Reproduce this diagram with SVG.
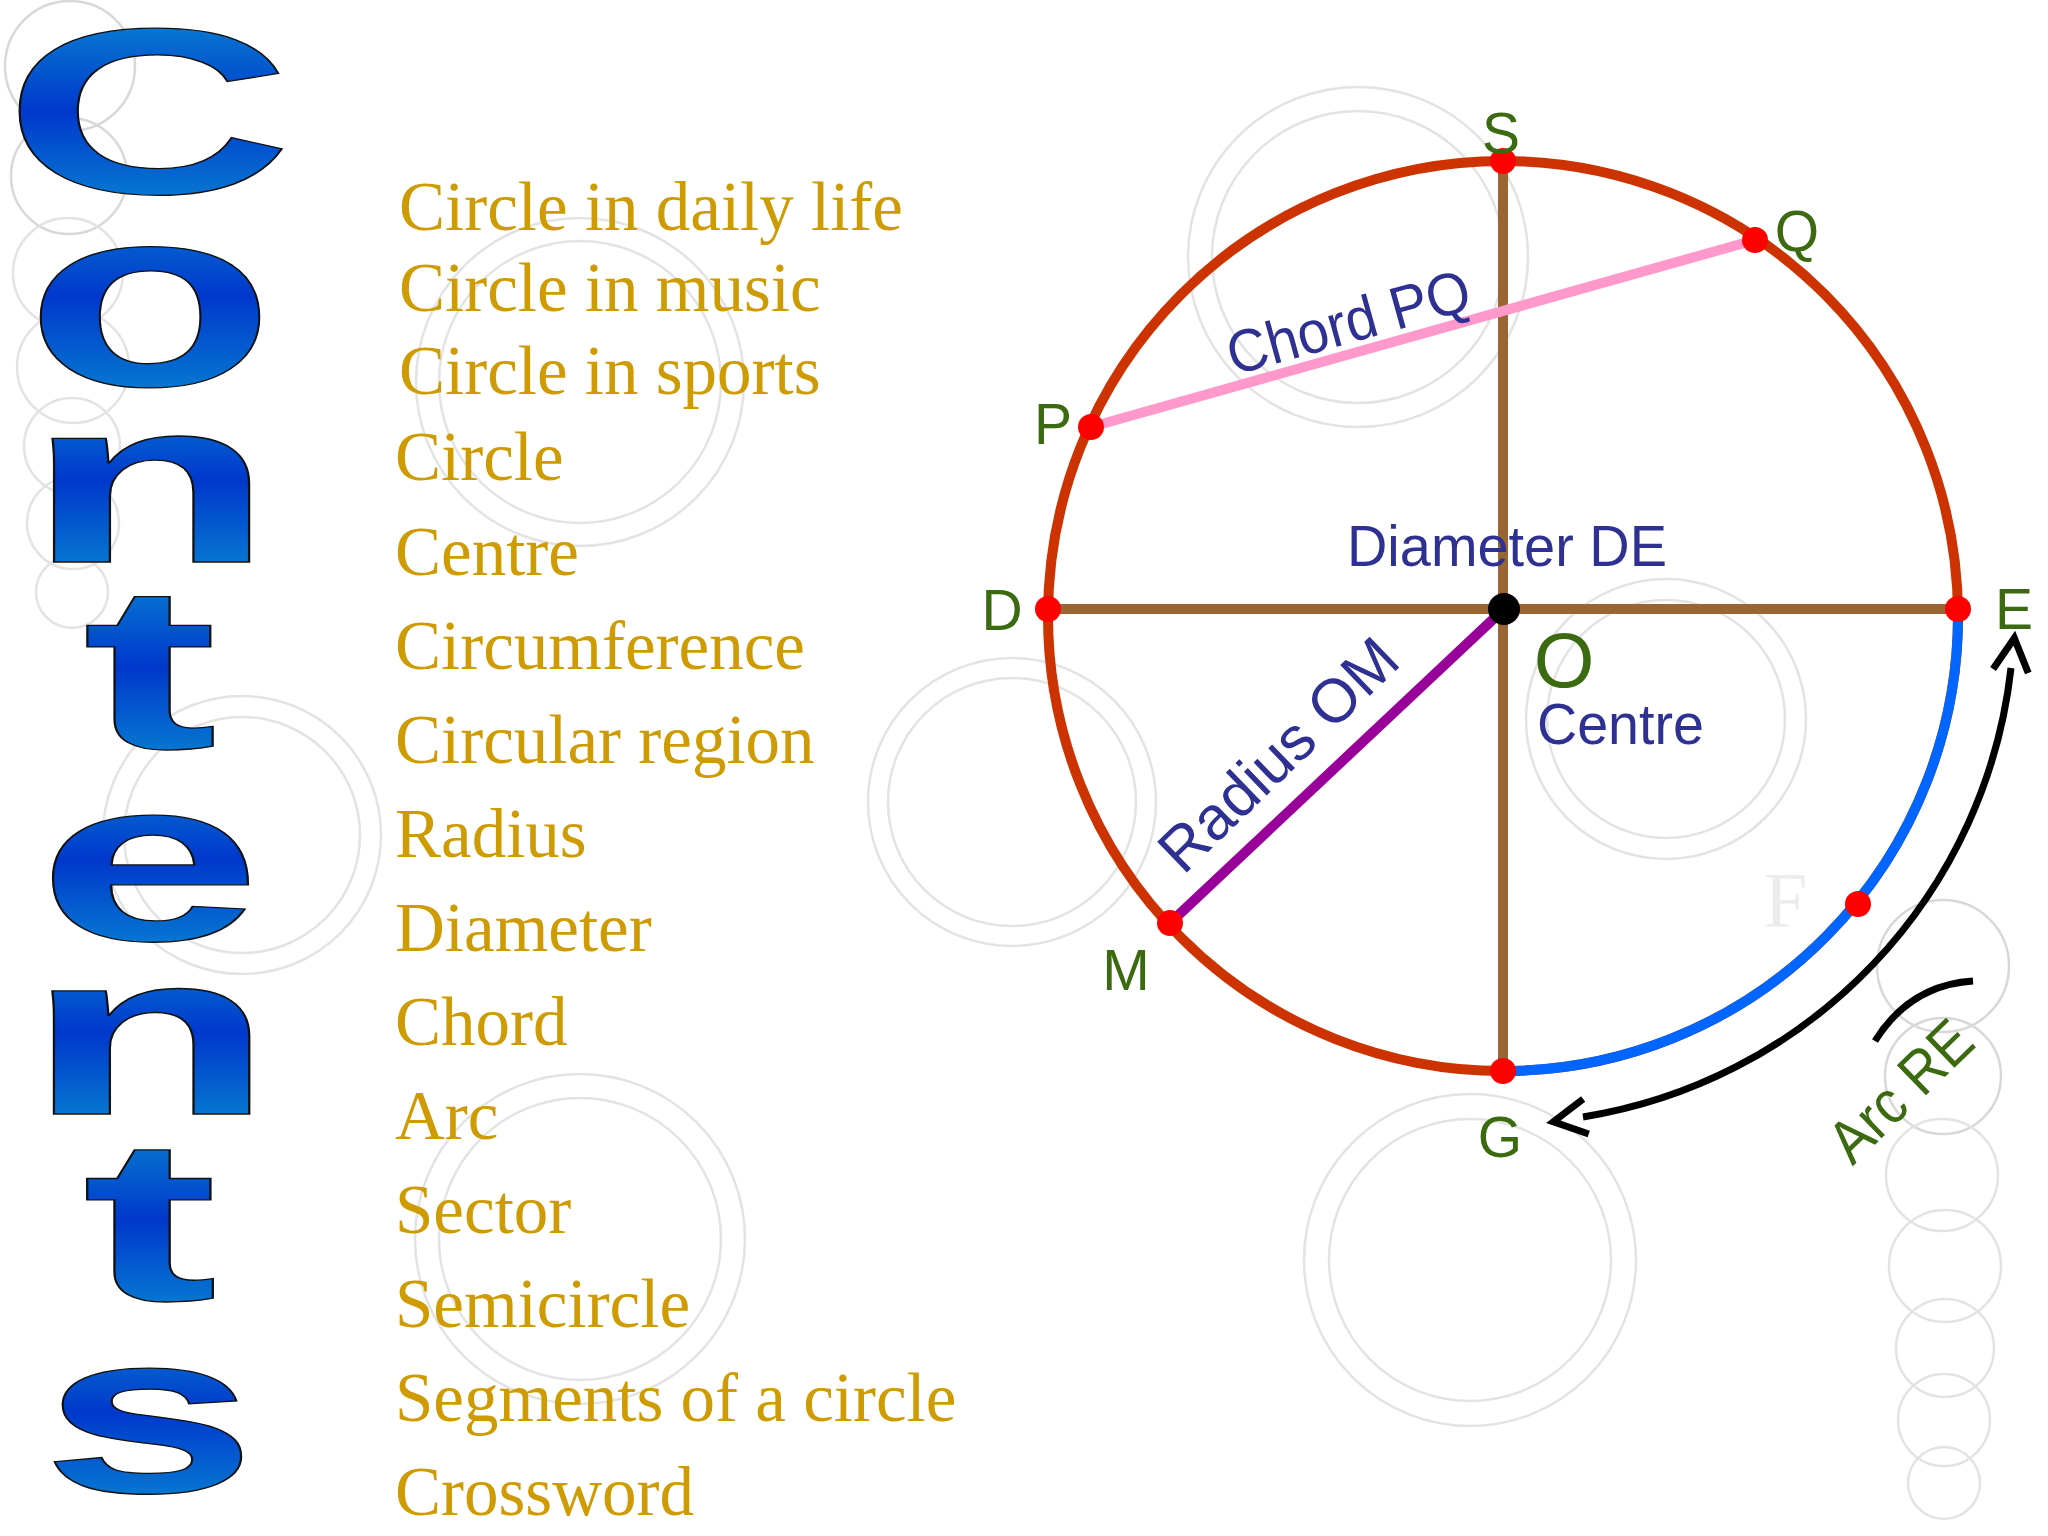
<svg xmlns="http://www.w3.org/2000/svg" width="2048" height="1536" viewBox="0 0 2048 1536">
<defs>
  <linearGradient id="blueGrad" x1="0" y1="0" x2="0" y2="1">
    <stop offset="0" stop-color="#0a9ad4"/>
    <stop offset="0.5" stop-color="#0038cc"/>
    <stop offset="1" stop-color="#0a9ad4"/>
  </linearGradient>
  <marker id="chev" markerUnits="userSpaceOnUse" markerWidth="80" markerHeight="80" viewBox="-40 -40 80 80" refX="0" refY="0" orient="auto-start-reverse" overflow="visible">
    <path d="M-3,-17.7 L30,0 L-3,17.7" fill="none" stroke="#000" stroke-width="7"/>
  </marker>
</defs>
<style>
  .bg { fill:none; stroke:#e3e3e3; stroke-width:2.5 }
  .bgd { fill:none; stroke:#d8d8d8; stroke-width:2.5 }
  .title { font-family:"Liberation Sans",Arial,sans-serif; font-weight:bold; fill:url(#blueGrad); stroke:#111; stroke-width:1.3; text-anchor:middle }
  .item { font-family:"Liberation Serif","Times New Roman",serif; font-size:69px; fill:#cf9b02 }
  .pt { font-family:"Liberation Sans",Arial,sans-serif; font-size:57px; fill:#3b6a10; text-anchor:middle }
  .lbl { font-family:"Liberation Sans",Arial,sans-serif; font-size:58px; fill:#2e3192 }
  .dot { fill:#ff0000 }
</style>
<rect width="2048" height="1536" fill="#ffffff"/>

<g id="background-circles">
  <circle class="bgd" cx="70" cy="66" r="65"/>
  <circle class="bgd" cx="69" cy="176" r="58"/>
  <circle class="bg" cx="68" cy="273" r="55"/>
  <circle class="bg" cx="73" cy="367" r="56"/>
  <circle class="bg" cx="72" cy="446" r="48"/>
  <circle class="bg" cx="73" cy="523" r="46"/>
  <circle class="bg" cx="72" cy="592" r="36"/>
  <circle class="bgd" cx="1943" cy="966" r="66"/>
  <circle class="bgd" cx="1943" cy="1076" r="58"/>
  <circle class="bg" cx="1942" cy="1175" r="56"/>
  <circle class="bg" cx="1945" cy="1266" r="56"/>
  <circle class="bg" cx="1945" cy="1348" r="49"/>
  <circle class="bg" cx="1944" cy="1420" r="46"/>
  <circle class="bg" cx="1944" cy="1483" r="36"/>
  <circle class="bg" cx="580" cy="382" r="164"/>
  <circle class="bg" cx="580" cy="382" r="141"/>
  <circle class="bg" cx="580" cy="1239" r="165"/>
  <circle class="bg" cx="580" cy="1239" r="141"/>
  <circle class="bg" cx="242" cy="835" r="139"/>
  <circle class="bg" cx="242" cy="835" r="118"/>
  <circle class="bg" cx="1358" cy="257" r="170"/>
  <circle class="bg" cx="1358" cy="257" r="146"/>
  <circle class="bg" cx="1012" cy="802" r="144"/>
  <circle class="bg" cx="1012" cy="802" r="124"/>
  <circle class="bg" cx="1666" cy="719" r="140"/>
  <circle class="bg" cx="1666" cy="719" r="119"/>
  <circle class="bg" cx="1470" cy="1260" r="166"/>
  <circle class="bg" cx="1470" cy="1260" r="141"/>
  <text x="1764" y="926" font-family="Liberation Serif, serif" font-size="78" fill="#ececec">F</text>
</g>

<g id="title">
  <text class="title" font-size="236" transform="translate(148,193) scale(1.70,1)">C</text>
  <text class="title" font-size="258" transform="translate(150,385.4) scale(1.59,1)">o</text>
  <text class="title" font-size="234" transform="translate(150,562) scale(1.74,1)">n</text>
  <text class="title" font-size="232" transform="translate(150,748) scale(1.75,1)">t</text>
  <text class="title" font-size="232" transform="translate(149.5,940) scale(1.74,1)">e</text>
  <text class="title" font-size="233" transform="translate(150,1114) scale(1.75,1)">n</text>
  <text class="title" font-size="230" transform="translate(150,1300) scale(1.77,1)">t</text>
  <text class="title" font-size="230" transform="translate(149,1492) scale(1.69,1)">s</text>
</g>

<g id="contents-list">
  <text class="item" x="399" y="230">Circle in daily life</text>
  <text class="item" x="399" y="311">Circle in music</text>
  <text class="item" x="399" y="394">Circle in sports</text>
  <text class="item" x="395" y="480">Circle</text>
  <text class="item" x="395" y="575">Centre</text>
  <text class="item" x="395" y="669">Circumference</text>
  <text class="item" x="395" y="763">Circular region</text>
  <text class="item" x="395" y="857">Radius</text>
  <text class="item" x="395" y="951">Diameter</text>
  <text class="item" x="395" y="1045">Chord</text>
  <text class="item" x="395" y="1139">Arc</text>
  <text class="item" x="395" y="1233">Sector</text>
  <text class="item" x="395" y="1327">Semicircle</text>
  <text class="item" x="395" y="1421">Segments of a circle</text>
  <text class="item" x="395" y="1515">Crossword</text>
</g>

<g id="circle-diagram">
  <circle id="circumference" cx="1503" cy="616" r="455" fill="none" stroke="#cc3300" stroke-width="10"/>
  <path id="arc-RE" d="M1958,609 A455,455 0 0 1 1503,1071" fill="none" stroke="#0066ff" stroke-width="10"/>
</g>

<g id="connectors">
  <line id="diameter-DE" x1="1048" y1="609" x2="1958" y2="609" stroke="#996633" stroke-width="10"/>
  <line id="diameter-SG" x1="1503" y1="161" x2="1503" y2="1071" stroke="#996633" stroke-width="10"/>
  <line id="chord-PQ" x1="1091" y1="427" x2="1755" y2="240" stroke="#ff99cc" stroke-width="10"/>
  <line id="radius-OM" x1="1504" y1="609" x2="1170" y2="923" stroke="#990099" stroke-width="10"/>
  <path id="arc-arrow" d="M1583,1117 A512,512 0 0 0 2011,668" fill="none" stroke="#000" stroke-width="7" marker-start="url(#chev)" marker-end="url(#chev)"/>
  <path id="arc-mark" d="M1875,1041 Q1910,985 1973,981" fill="none" stroke="#000" stroke-width="7"/>
</g>

<g id="points">
  <g id="point-S"><circle class="dot" cx="1503" cy="161" r="13"/><text class="pt" x="1501" y="153">S</text></g>
  <g id="point-Q"><circle class="dot" cx="1755" cy="240" r="13"/><text class="pt" x="1797" y="251">Q</text></g>
  <g id="point-P"><circle class="dot" cx="1091" cy="427" r="13"/><text class="pt" x="1053" y="444">P</text></g>
  <g id="point-D"><circle class="dot" cx="1048" cy="609" r="13"/><text class="pt" x="1002" y="630">D</text></g>
  <g id="point-E"><circle class="dot" cx="1958" cy="609" r="13"/><text class="pt" x="2014" y="629">E</text></g>
  <g id="point-M"><circle class="dot" cx="1170" cy="923" r="13"/><text class="pt" x="1126" y="990">M</text></g>
  <g id="point-G"><circle class="dot" cx="1503" cy="1071" r="13"/><text class="pt" x="1500" y="1157">G</text></g>
  <g id="point-R"><circle class="dot" cx="1858" cy="904" r="13"/></g>
  <g id="point-O"><circle cx="1504" cy="609" r="16" fill="#000"/><text class="pt" x="1564" y="687" style="font-size:78px">O</text></g>
</g>

<g id="labels">
  <text class="lbl" x="1347" y="566" textLength="320" lengthAdjust="spacingAndGlyphs">Diameter DE</text>
  <text class="lbl" x="1537" y="744" textLength="167" lengthAdjust="spacingAndGlyphs">Centre</text>
  <text class="lbl" text-anchor="middle" transform="translate(1354,342) rotate(-15.5)" textLength="250" lengthAdjust="spacingAndGlyphs" style="font-size:60px">Chord PQ</text>
  <text class="lbl" text-anchor="middle" transform="translate(1293,770) rotate(-44)" textLength="305" lengthAdjust="spacingAndGlyphs" style="font-size:62px">Radius OM</text>
  <text class="pt" transform="translate(1915,1106) rotate(-44)" textLength="174" lengthAdjust="spacingAndGlyphs" style="font-size:61px">Arc RE</text>
</g>
</svg>
